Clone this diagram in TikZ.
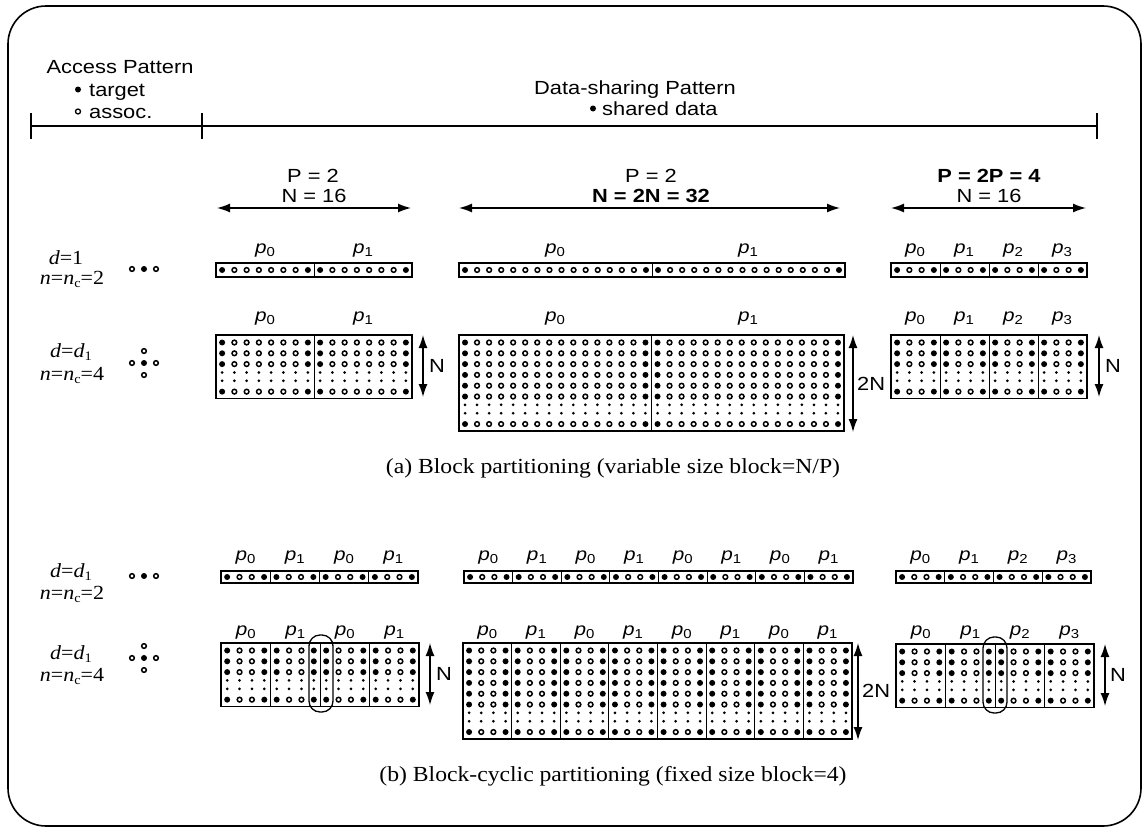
\documentclass[tikz,border=0pt]{standalone}
\usepackage{fontspec}
\setmainfont{Liberation Serif}[FakeStretch=1.1]
\setsansfont{Liberation Sans}[FakeStretch=1.15]
\usetikzlibrary{arrows.meta}

\newcommand\pp[1]{{\itshape p}\raisebox{-0.35ex}{\fontsize{13}{13}\selectfont #1}}
\newcommand\ncsub{\raisebox{-0.4ex}{\fontsize{13}{13}\selectfont c}}
\newcommand\dsub{\raisebox{-0.4ex}{\fontsize{13}{13}\selectfont 1}}

\newcommand\fdot[2]{\fill (#1,#2) circle[radius=3.0];}
\newcommand\hdot[2]{\draw[line width=1.5] (#1,#2) circle[radius=2.35];}
\newcommand\sdot[2]{\fill (#1,#2) circle[radius=1.5];}

% dot row: x0 y w nb dpb kind(0 full,1 small)
\newcommand\dotrow[6]{%
  \pgfmathsetmacro\bw{#3/#4}%
  \pgfmathsetmacro\dpt{\bw/#5}%
  \pgfmathtruncatemacro\lastb{#4-1}%
  \pgfmathtruncatemacro\lastj{#5-1}%
  \foreach \b in {0,...,\lastb}{%
    \foreach \j in {0,...,\lastj}{%
      \pgfmathsetmacro\xx{#1+\b*\bw+(\j+0.5)*\dpt}%
      \ifnum#6=1 \sdot{\xx}{#2}%
      \else
        \ifnum\j=0 \fdot{\xx}{#2}%
        \else\ifnum\j=\lastj \fdot{\xx}{#2}%
        \else \hdot{\xx}{#2}\fi\fi
      \fi
    }%
  }%
}
% block dividers: x0 y0 w h nb
\newcommand\dividers[5]{%
  \pgfmathsetmacro\bw{#3/#5}%
  \pgfmathtruncatemacro\lastb{#5-1}%
  \foreach \b in {1,...,\lastb}{%
    \draw[divl] ({#1+\b*\bw},#2) -- ++(0,#4);
  }%
}
% strip: x0 y0 w h nb dpb
\newcommand\mystrip[6]{%
  \draw[frm] (#1,#2) rectangle ++(#3,#4);
  \dividers{#1}{#2}{#3}{#4}{#5}%
  \dotrow{#1}{#2+#4/2}{#3}{#5}{#6}{0}%
}
% grid: x0 y0 w nb dpb nfull
\newcommand\mygrid[6]{%
  \pgfmathsetmacro\gh{7.5+10.8*(#6+1.55)+7}%
  \draw[frm] (#1,#2) rectangle ++(#3,\gh);
  \dividers{#1}{#2}{#3}{\gh}{#4}%
  \pgfmathtruncatemacro\lastk{#6-1}%
  \foreach \k in {0,...,\lastk}{%
    \pgfmathsetmacro\yy{#2+7.5+10.8*\k}%
    \dotrow{#1}{\yy}{#3}{#4}{#5}{0}%
  }%
  \pgfmathsetmacro\yy{#2+7.5+10.8*(#6-0.23)}%
  \dotrow{#1}{\yy}{#3}{#4}{#5}{1}%
  \pgfmathsetmacro\yy{#2+7.5+10.8*(#6+0.55)}%
  \dotrow{#1}{\yy}{#3}{#4}{#5}{1}%
  \pgfmathsetmacro\yy{#2+7.5+10.8*(#6+1.55)}%
  \dotrow{#1}{\yy}{#3}{#4}{#5}{0}%
}

\tikzset{
  frm/.style={line width=1.4},
  divl/.style={line width=1.0},
  hd/.style={font=\sffamily\fontsize{19}{21}\selectfont, inner sep=0, anchor=base},
  hdw/.style={hd, anchor=base west},
  grp/.style={font=\sffamily\fontsize{19}{21}\selectfont, inner sep=0, anchor=base},
  grpb/.style={grp, font=\sffamily\bfseries\fontsize{19}{21}\selectfont},
  plab/.style={font=\sffamily\fontsize{18}{20}\selectfont, inner sep=0, anchor=base},
  llab/.style={font=\fontsize{20}{22}\selectfont, inner sep=0, anchor=base},
  captxt/.style={font=\fontsize{21.5}{24}\selectfont, inner sep=0, anchor=base},
  dbl/.style={line width=1.4, {Latex[length=13pt,width=9pt]}-{Latex[length=13pt,width=9pt]}},
  tick/.style={line width=1.5},
}

\begin{document}
\begin{tikzpicture}[x=1pt,y=-1pt]
\useasboundingbox (0,0) rectangle (1143,830);
% frame
\draw[line width=1.6, rounded corners=38] (8,6) rectangle (1141,826);

% header
\node[hd] (ap) at (120,73) {Access Pattern};
\fill (78,89.5) circle[radius=3.0];
\node[hdw] (tg) at (89,96) {target};
\draw[line width=1.3] (78,111.5) circle[radius=2.5];
\node[hdw] (as) at (89,118) {assoc.};
\node[hd] (dsp) at (635,94) {Data-sharing Pattern};
\fill (593,108.5) circle[radius=3.0];
\node[hdw] (sd) at (602,115) {shared data};
\coordinate (L0) at (31,126);
\coordinate (L1) at (202,126);
\coordinate (L2) at (1097,126);
\draw[tick] (L0) -- (L2);
\draw[tick] (31,113) -- (31,139);
\draw[tick] (202,113) -- (202,139);
\draw[tick] (1097,113) -- (1097,139);

% group headers
\node[grp] (g1p) at (313,182) {P = 2};
\node[grp] (g1n) at (314,202) {N = 16};
\node[grp] (g2p) at (651,182) {P = 2};
\node[grpb] (g2n) at (651,202) {N = 2N = 32};
\node[grpb] (g3p) at (989,182) {P = 2P = 4};
\node[grp] (g3n) at (989,202) {N = 16};
\coordinate (a1l) at (217,208); \coordinate (a1r) at (411,208);
\coordinate (a2l) at (459,208); \coordinate (a2r) at (840,208);
\coordinate (a3l) at (891,208); \coordinate (a3r) at (1086,208);
\draw[dbl] (a1l) -- (a1r);
\draw[dbl] (a2l) -- (a2r);
\draw[dbl] (a3l) -- (a3r);

% ---------- (a) ----------
\node[llab] (la1) at (66,264) {\textit{d}=1};
\node[llab] (la2) at (72,284) {\textit{n}=\textit{n}\ncsub=2};
\hdot{132}{269}\fdot{144}{269}\hdot{156}{269}
\node[llab] (la3) at (71,357) {\textit{d}=\textit{d}\dsub};
\node[llab] (la4) at (72,380) {\textit{n}=\textit{n}\ncsub=4};
\hdot{144}{351}\hdot{132}{363}\fdot{144}{363}\hdot{156}{363}\hdot{144}{375}

% row 1 strips
\mystrip{216}{263}{196}{14}{2}{8}
\mystrip{459}{263}{386}{14}{2}{16}
\mystrip{891}{263}{196}{14}{4}{4}
\node[plab] at (265,253) {\pp0}; \node[plab] at (363,253) {\pp1};
\node[plab] at (555,253) {\pp0}; \node[plab] at (748,253) {\pp1};
\node[plab] at (915,253) {\pp0}; \node[plab] at (964,253) {\pp1};
\node[plab] at (1013,253) {\pp2}; \node[plab] at (1062,253) {\pp3};

% row 2 grids
\mygrid{216}{335}{196}{2}{8}{3}
\mygrid{459}{335}{385}{2}{16}{6}
\mygrid{891}{335}{196}{4}{4}{3}
\node[plab] at (265,321) {\pp0}; \node[plab] at (363,321) {\pp1};
\node[plab] at (555,321) {\pp0}; \node[plab] at (748,321) {\pp1};
\node[plab] at (915,321) {\pp0}; \node[plab] at (964,321) {\pp1};
\node[plab] at (1013,321) {\pp2}; \node[plab] at (1062,321) {\pp3};
\coordinate (v1t) at (423,335); \coordinate (v1b) at (423,397);
\draw[dbl] (v1t) -- (v1b);
\node[grp, anchor=west] (n1) at (429,366) {N};
\coordinate (v2t) at (853,335); \coordinate (v2b) at (853,432);
\draw[dbl] (v2t) -- (v2b);
\node[grp, anchor=west] (n2) at (857,384) {2N};
\coordinate (v3t) at (1099,335); \coordinate (v3b) at (1099,397);
\draw[dbl] (v3t) -- (v3b);
\node[grp, anchor=west] (n3) at (1105,366) {N};

\node[captxt] (capa) at (613,473) {(a) Block partitioning (variable size block=N/P)};

% ---------- (b) ----------
\node[llab] (lb1) at (71,577) {\textit{d}=\textit{d}\dsub};
\node[llab] (lb2) at (72,599) {\textit{n}=\textit{n}\ncsub=2};
\hdot{132}{576}\fdot{144}{576}\hdot{156}{576}
\node[llab] (lb3) at (71,659) {\textit{d}=\textit{d}\dsub};
\node[llab] (lb4) at (72,681) {\textit{n}=\textit{n}\ncsub=4};
\hdot{144}{646}\hdot{132}{658}\fdot{144}{658}\hdot{156}{658}\hdot{144}{670}

\mystrip{221}{571}{197}{12}{4}{4}
\mystrip{464}{571}{389}{12}{8}{4}
\mystrip{896}{571}{195}{12}{4}{4}
\foreach \i/\t in {0/0,1/1,2/0,3/1}{\node[plab] at ({221+(\i+0.5)*49.25},560) {\pp{\t}};}
\foreach \i/\t in {0/0,1/1,2/0,3/1,4/0,5/1,6/0,7/1}{\node[plab] at ({464+(\i+0.5)*48.6},560) {\pp{\t}};}
\foreach \i/\t in {0/0,1/1,2/2,3/3}{\node[plab] at ({896+(\i+0.5)*48.75},560) {\pp{\t}};}

\mygrid{221}{643}{198}{4}{4}{3}
\mygrid{463}{643}{389}{8}{4}{6}
\mygrid{896}{644}{198}{4}{4}{3}
\foreach \i/\t in {0/0,1/1,2/0,3/1}{\node[plab] at ({221+(\i+0.5)*49.5},635) {\pp{\t}};}
\foreach \i/\t in {0/0,1/1,2/0,3/1,4/0,5/1,6/0,7/1}{\node[plab] at ({463+(\i+0.5)*48.6},635) {\pp{\t}};}
\foreach \i/\t in {0/0,1/1,2/2,3/3}{\node[plab] at ({896+(\i+0.5)*49.5},635) {\pp{\t}};}
\draw[line width=1.3, rounded corners=11] (309,635) rectangle (333,712);
\draw[line width=1.3, rounded corners=11] (983,637) rectangle (1007,713);
\coordinate (w1t) at (430,643); \coordinate (w1b) at (430,705);
\draw[dbl] (w1t) -- (w1b);
\node[grp, anchor=west] (m1) at (436,674) {N};
\coordinate (w2t) at (858,643); \coordinate (w2b) at (858,740);
\draw[dbl] (w2t) -- (w2b);
\node[grp, anchor=west] (m2) at (862,691) {2N};
\coordinate (w3t) at (1105,644); \coordinate (w3b) at (1105,706);
\draw[dbl] (w3t) -- (w3b);
\node[grp, anchor=west] (m3) at (1110,675) {N};

\node[captxt] (capb) at (613,781) {(b) Block-cyclic partitioning (fixed size block=4)};
\end{tikzpicture}
\end{document}
